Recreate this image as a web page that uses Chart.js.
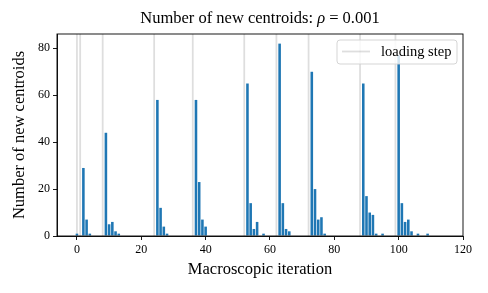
<!DOCTYPE html>
<html>
<head>
<meta charset="utf-8">
<script src="https://cdn.jsdelivr.net/npm/chart.js@4.4.1/dist/chart.umd.min.js"></script>
<style>
  html, body { margin: 0; padding: 0; background: #fff; }
  #wrap { width: 488px; height: 293px; }
</style>
</head>
<body>
<div id="wrap"><canvas id="myChart" width="488" height="293"></canvas></div>
<script>
// iteration index and number of new centroids at that iteration
const iterations = [0, 2, 3, 4, 9, 10, 11, 12, 13, 25, 26, 27, 28, 37, 38, 39, 40,
    53, 54, 55, 56, 58, 63, 64, 65, 66, 73, 74, 75, 76, 77,
    89, 90, 91, 92, 93, 95, 100, 101, 102, 103, 104, 106, 109];
const newCentroids = [1, 29, 7, 1, 44, 5, 6, 2, 1, 58, 12, 4, 1, 58, 23, 7, 4,
    65, 14, 3, 6, 1, 82, 14, 3, 2, 70, 20, 7, 8, 1,
    65, 17, 10, 9, 1, 1, 77, 14, 6, 7, 2, 1, 1];
// iterations where a loading step happened
const loadingSteps = [0, 1, 8, 24, 36, 52, 62, 72, 88, 99];
const xTicks = [0, 20, 40, 60, 80, 100, 120];
const yTicks = [0, 20, 40, 60, 80];

const serif = "'Liberation Serif', 'DejaVu Serif', serif";
const X_MIN = -6.2, X_MAX = 120, Y_MAX = 86.1;

// vertical grey lines for the loading steps, behind the bars
const loadingLines = {
    id: 'loadingLines',
    beforeDatasetsDraw(chart) {
        const {ctx, chartArea, scales} = chart;
        ctx.save();
        ctx.strokeStyle = 'rgba(0,0,0,0.13)';
        ctx.lineWidth = 1.8;
        loadingSteps.forEach(s => {
            const px = scales.x.getPixelForValue(s);
            ctx.beginPath();
            ctx.moveTo(px, chartArea.top);
            ctx.lineTo(px, chartArea.bottom);
            ctx.stroke();
        });
        ctx.restore();
    }
};

// frame, title and the legend box inside the axes
const decorations = {
    id: 'decorations',
    afterDraw(chart) {
        const {ctx, chartArea} = chart;
        ctx.save();
        ctx.strokeStyle = '#000';
        ctx.lineWidth = 0.9;
        ctx.strokeRect(chartArea.left, chartArea.top, chartArea.right - chartArea.left, chartArea.bottom - chartArea.top);

        // title with italic rho
        const parts = [
            ['Number of new centroids: ', '16.5px ' + serif],
            ['ρ', 'italic 16.5px ' + serif],
            [' = 0.001', '16.5px ' + serif]
        ];
        let total = 0;
        parts.forEach(p => { ctx.font = p[1]; total += ctx.measureText(p[0]).width; });
        let x = (chartArea.left + chartArea.right) / 2 - total / 2;
        ctx.fillStyle = '#000';
        ctx.textBaseline = 'middle';
        parts.forEach(p => {
            ctx.font = p[1];
            ctx.fillText(p[0], x, 19);
            x += ctx.measureText(p[0]).width;
        });

        // legend
        const bx = chartArea.right - 126, by = chartArea.top + 6, bw = 120, bh = 24;
        ctx.beginPath();
        ctx.roundRect(bx, by, bw, bh, 3);
        ctx.fillStyle = 'rgba(255,255,255,0.8)';
        ctx.fill();
        ctx.strokeStyle = '#d0d0d0';
        ctx.lineWidth = 0.9;
        ctx.stroke();
        ctx.beginPath();
        ctx.strokeStyle = 'rgba(0,0,0,0.13)';
        ctx.lineWidth = 1.8;
        ctx.moveTo(bx + 5, by + 11.5);
        ctx.lineTo(bx + 33, by + 11.5);
        ctx.stroke();
        ctx.fillStyle = '#000';
        ctx.font = '14.5px ' + serif;
        ctx.fillText('loading step', bx + 44, by + 12);
        ctx.restore();
    }
};

const ctx = document.getElementById('myChart').getContext('2d');
const chart = new Chart(ctx, {
    type: 'bar',
    data: {
        datasets: [{
            label: 'new centroids',
            data: iterations.map((it, i) => ({x: it, y: newCentroids[i]})),
            backgroundColor: '#1f77b4',
            borderWidth: 0,
            barPercentage: 0.8,
            categoryPercentage: 1.0
        }]
    },
    options: {
        responsive: false,
        animation: false,
        layout: {padding: {top: 34, right: 25, left: 0, bottom: 0}},
        plugins: {
            legend: {display: false},
            title: {display: false},
            tooltip: {enabled: false}
        },
        scales: {
            x: {
                type: 'linear',
                min: X_MIN,
                max: X_MAX,
                offset: false,
                afterBuildTicks: s => { s.ticks = xTicks.map(v => ({value: v})); },
                afterFit: s => { s.height = 57; },
                grid: {display: true, drawOnChartArea: false, offset: false, color: '#000', tickLength: 4, tickWidth: 0.9},
                border: {display: true, color: '#000', width: 0.9},
                ticks: {color: '#000', font: {family: serif, size: 12}, padding: 3, maxRotation: 0},
                title: {display: true, text: 'Macroscopic iteration', color: '#000',
                    font: {family: serif, size: 16.5}, padding: {top: 0, bottom: 13}}
            },
            y: {
                type: 'linear',
                min: 0,
                max: Y_MAX,
                afterBuildTicks: s => { s.ticks = yTicks.map(v => ({value: v})); },
                afterFit: s => { s.width = 57; },
                grid: {display: true, drawOnChartArea: false, color: '#000', tickLength: 4, tickWidth: 0.9},
                border: {display: true, color: '#000', width: 0.9},
                ticks: {color: '#000', font: {family: serif, size: 12}, padding: 3},
                title: {display: true, text: 'Number of new centroids', color: '#000',
                    font: {family: serif, size: 16.5}, padding: {top: 10, bottom: 0}}
            }
        }
    },
    plugins: [loadingLines, decorations]
});
</script>
</body>
</html>
